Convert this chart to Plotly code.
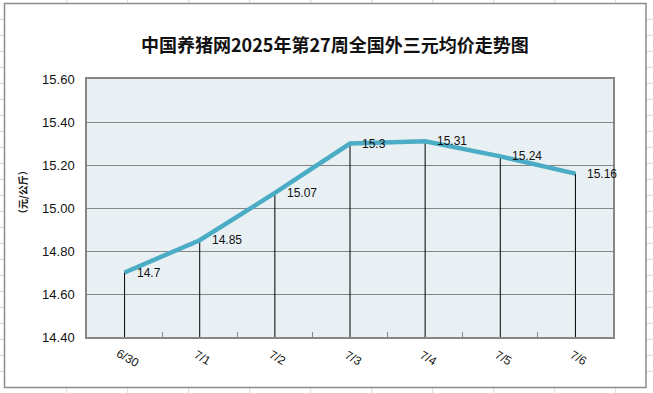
import plotly.graph_objects as go

categories = ["6/30", "7/1", "7/2", "7/3", "7/4", "7/5", "7/6"]
prices = [14.70, 14.85, 15.07, 15.30, 15.31, 15.24, 15.16]
labels = ["14.7", "14.85", "15.07", "15.3", "15.31", "15.24", "15.16"]
y_ticks = [14.40, 14.60, 14.80, 15.00, 15.20, 15.40, 15.60]
title = "中国养猪网2025年第27周全国外三元均价走势图"
y_title = "（元/公斤）"

W, H = 653, 393
L, R, T, B = 87, 613, 79, 337

def px(x):
    return (x - L) / (R - L)

def py(y):
    return (B - y) / (B - T)

fig = go.Figure()

# drop lines
dx, dy = [], []
for c, v in zip(categories, prices):
    dx += [c, c, None]
    dy += [v, y_ticks[0], None]
fig.add_trace(go.Scatter(x=dx, y=dy, mode="lines", line=dict(color="black", width=1),
                         hoverinfo="skip", showlegend=False))

fig.add_trace(go.Scatter(x=categories, y=prices, mode="lines",
                         line=dict(color="#4BACC6", width=4.5), showlegend=False))

shapes = []
grid_col = "#D9D9D9"
# spreadsheet gridlines outside chart
cols = [66.7 + 61 * k for k in range(10)]
for cx in cols:
    for (y0, y1) in [(0, 3), (387, 393)]:
        shapes.append(dict(type="line", xref="paper", yref="paper",
                           x0=px(cx), x1=px(cx), y0=py(y0), y1=py(y1),
                           line=dict(color=grid_col, width=1)))
rows = [19.3 + 16 * k for k in range(24) if 19.3 + 16 * k < 387]
for ry in rows:
    for (x0, x1) in [(0, 4), (646, 653)]:
        shapes.append(dict(type="line", xref="paper", yref="paper",
                           x0=px(x0), x1=px(x1), y0=py(ry), y1=py(ry),
                           line=dict(color=grid_col, width=1)))
# chart border
shapes.append(dict(type="rect", xref="paper", yref="paper",
                   x0=px(4.5), x1=px(646), y0=py(3.5), y1=py(387.5),
                   line=dict(color="#8C8C8C", width=1.5), fillcolor="rgba(0,0,0,0)"))

annotations = [
    dict(text="<b>" + title + "</b>", xref="paper", yref="paper", x=px(335), y=py(44),
         xanchor="center", yanchor="middle",
         showarrow=False, font=dict(family="Noto Sans CJK SC", size=18, color="#111111")),
    dict(text="<b>" + y_title + "</b>", xref="paper", yref="paper", x=px(22), y=py(192),
         xanchor="center", yanchor="middle",
         showarrow=False, textangle=-90,
         font=dict(family="Noto Sans CJK SC", size=10, color="#111111")),
]
for c in categories:
    annotations.append(dict(text=c, x=c, xref="x", yref="paper", y=py(358), showarrow=False,
                            xanchor="center", yanchor="middle", xshift=3,
                            textangle=30, font=dict(family="Liberation Sans, Arial", size=12, color="#111111")))
for c, v, t in zip(categories, prices, labels):
    annotations.append(dict(text=t, x=c, y=v, xref="x", yref="y", showarrow=False,
                            xanchor="left", yanchor="middle", xshift=10,
                            font=dict(family="Liberation Sans, Arial", size=12, color="#111111")))

fig.update_layout(
    width=W, height=H,
    margin=dict(l=L, r=W - R, t=T, b=H - B),
    paper_bgcolor="white",
    plot_bgcolor="#E9F0F4",
    shapes=shapes,
    annotations=annotations,
    xaxis=dict(type="category", categoryorder="array", categoryarray=categories,
               range=[-0.5, len(categories) - 0.5],
               showticklabels=False, showgrid=False, zeroline=False,
               showline=True, linecolor="#868686", linewidth=1.5, mirror=True,
               ticks="inside", tickson="boundaries", ticklen=5, tickcolor="#868686"),
    yaxis=dict(range=[y_ticks[0], y_ticks[-1]], tickvals=y_ticks,
               ticktext=[f"{v:.2f}" for v in y_ticks],
               showgrid=True, gridcolor="#868686", gridwidth=1, zeroline=False,
               showline=True, linecolor="#868686", linewidth=1.5, mirror=True,
               ticks="", ticklabelstandoff=8,
               tickfont=dict(family="Liberation Sans, Arial", size=13, color="#111111")),
)

fig.write_html("out.html", config={"displayModeBar": False},
               post_script="document.body.style.margin='0';document.body.style.overflow='hidden';")
